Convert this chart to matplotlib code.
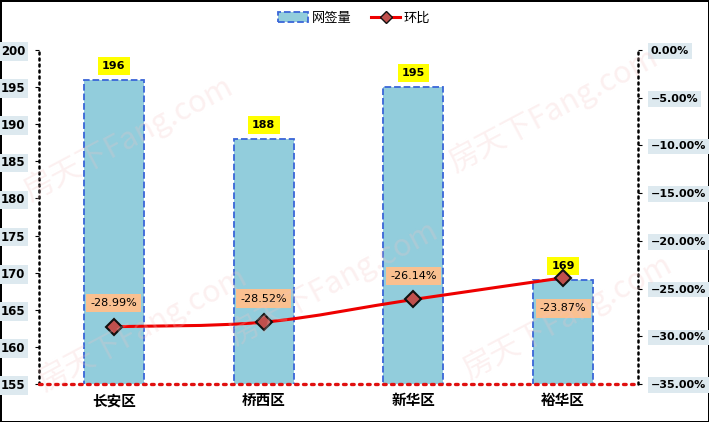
import numpy as np
import matplotlib
matplotlib.use('Agg')
import matplotlib.pyplot as plt
from matplotlib.path import Path
from matplotlib.patches import PathPatch, Patch
from matplotlib.lines import Line2D
from matplotlib.ticker import FuncFormatter

plt.rcParams['font.family'] = ['DejaVu Sans', 'Noto Sans CJK SC']

districts = ['长安区', '桥西区', '新华区', '裕华区']
volume = [196, 188, 195, 169]
mom = [-28.99, -28.52, -26.14, -23.87]
left_ticks = [155, 160, 165, 170, 175, 180, 185, 190, 195, 200]
right_ticks = [0, -5, -10, -15, -20, -25, -30, -35]

fig = plt.figure(figsize=(7.09, 4.22), dpi=100)
fig.patch.set_edgecolor('black')
fig.patch.set_linewidth(2)
ax = fig.add_axes([0.055, 0.090, 0.845, 0.7915])
ax2 = ax.twinx()

# faint watermark
for (wx, wy) in [(0.18, 0.67), (0.47, 0.33), (0.78, 0.74), (0.80, 0.25), (0.20, 0.22)]:
    fig.text(wx, wy, '房天下Fang.com', fontsize=22, color='#f4c4c4', alpha=0.25, rotation=28,
             ha='center', va='center', family=['Noto Sans CJK SC'], zorder=0)

x = np.arange(len(districts))
ax.bar(x, volume, width=0.4, bottom=0, color='#92cddc', edgecolor='#3a66d8',
       linestyle='--', linewidth=1.3, zorder=2)
ax.set_xlim(-0.5, 3.5)
ax.set_ylim(155, 200)
ax.set_yticks(left_ticks)
ax.set_xticks(x)
ax.set_xticklabels(districts, family=['Noto Sans CJK SC'], fontweight='bold', fontsize=10.5)
ax.tick_params(axis='x', length=0, pad=6)
ax.tick_params(axis='y', length=3, direction='out', labelsize=8.5, pad=7)
for t in ax.get_yticklabels():
    t.set_fontweight('bold')
    t.set_bbox(dict(facecolor='#dde9ef', edgecolor='none', pad=2))
ax.patch.set_alpha(0)

dots = (0, (0.8, 1.6))
ax.spines['top'].set_visible(False)
ax2.spines['top'].set_visible(False)
ax.spines['left'].set_linestyle(dots)
ax.spines['left'].set_linewidth(1.8)
ax.spines['left'].set_capstyle('round')
ax.spines['right'].set_visible(False)
ax.spines['bottom'].set_color('#e01010')
ax.spines['bottom'].set_linestyle(dots)
ax.spines['bottom'].set_linewidth(2.4)
ax.spines['bottom'].set_capstyle('round')
ax.spines['bottom'].set_zorder(5)
ax2.spines['left'].set_visible(False)
ax2.spines['bottom'].set_visible(False)
ax2.spines['right'].set_linestyle(dots)
ax2.spines['right'].set_linewidth(1.8)
ax2.spines['right'].set_capstyle('round')

for xi, v in zip(x, volume):
    ax.annotate(str(v), (xi, v), xytext=(0, 10), textcoords='offset points', ha='center',
                va='center', fontsize=8, fontweight='bold',
                bbox=dict(facecolor='#ffff00', edgecolor='none', pad=3), zorder=6)

ax2.set_ylim(-35, 0)
ax2.set_yticks(right_ticks)
ax2.yaxis.set_major_formatter(FuncFormatter(lambda v, p: '0.00%' if v == 0 else '\u2212%.2f%%' % abs(v)))
ax2.tick_params(axis='y', length=3, labelsize=8, pad=6)
for t in ax2.get_yticklabels():
    t.set_fontweight('bold')
    t.set_bbox(dict(facecolor='#dde9ef', edgecolor='none', pad=2))

# smoothed line (cubic Bezier through the points)
pts = np.column_stack([x, mom]).astype(float)
verts = [tuple(pts[0])]
codes = [Path.MOVETO]
k = 1 / 6.0
for i in range(len(pts) - 1):
    p0 = pts[max(i - 1, 0)]
    p1 = pts[i]
    p2 = pts[i + 1]
    p3 = pts[min(i + 2, len(pts) - 1)]
    verts += [tuple(p1 + (p2 - p0) * k), tuple(p2 - (p3 - p1) * k), tuple(p2)]
    codes += [Path.CURVE4] * 3
ax2.add_patch(PathPatch(Path(verts, codes), facecolor='none', edgecolor='#ee0000', linewidth=2.2, zorder=3))
ax2.plot(x, mom, linestyle='none', marker='D', markersize=8, markerfacecolor='#c0504d',
         markeredgecolor='#111111', markeredgewidth=1.5, zorder=4)

offsets = [17, 17, 17, -22]
for xi, v, off in zip(x, mom, offsets):
    ax2.annotate('%.2f%%' % v, (xi, v), xytext=(0, off), textcoords='offset points', ha='center',
                 va='center', fontsize=8,
                 bbox=dict(facecolor='#fac090', edgecolor='none', pad=3), zorder=6)

handles = [Patch(facecolor='#92cddc', edgecolor='#3a66d8', linestyle='--', linewidth=1.3),
           Line2D([], [], color='#ee0000', linewidth=2.2, marker='D', markersize=6,
                  markerfacecolor='#c0504d', markeredgecolor='#111111')]
fig.legend(handles, ['网签量', '环比'], loc='center', bbox_to_anchor=(0.5, 0.957), ncol=2,
           frameon=False, prop={'family': ['Noto Sans CJK SC'], 'size': 9.5},
           handlelength=2.2, handletextpad=0.3, columnspacing=1.5)

fig.savefig('out.png', dpi=100, edgecolor=fig.get_edgecolor())
